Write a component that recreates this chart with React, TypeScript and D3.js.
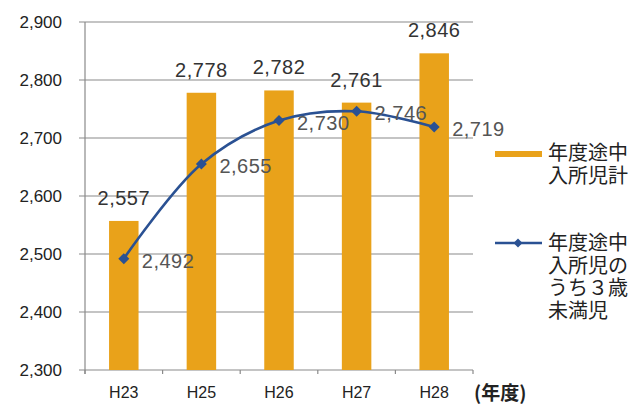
import React from "react";
import * as d3 from "d3";

const categories = ["H23", "H25", "H26", "H27", "H28"];
const totalValues = [2557, 2778, 2782, 2761, 2846];
const under3Values = [2492, 2655, 2730, 2746, 2719];
const yTicks = [2300, 2400, 2500, 2600, 2700, 2800, 2900];
const legendBar = ["年度途中", "入所児計"];
const legendLine = ["年度途中", "入所児の", "うち３歳", "未満児"];
const unitLabel = "(年度)";

const W = 629, H = 406;
const left = 85, right = 473, top = 22, bottom = 370;
const barColor = "#E9A21A";
const lineColor = "#2A5193";
const fontLatin = "'Liberation Sans', Arial, sans-serif";
const fontCJK = "'Noto Sans CJK JP', sans-serif";

export default function App() {
  const x = d3.scaleBand<string>().domain(categories).range([left, right]).paddingInner(0.62).paddingOuter(0.31);
  const y = d3.scaleLinear().domain([2300, 2900]).range([bottom, top]);
  const band = d3.scaleBand<string>().domain(categories).range([left, right]);
  const cx = (c: string) => (x(c) as number) + x.bandwidth() / 2;
  const line = d3.line<number>().x((_, i) => cx(categories[i])).y(d => y(d)).curve(d3.curveCatmullRom.alpha(0.5));
  const fmt = d3.format(",");
  const boundaries = categories.map(c => band(c) as number).concat([right]);

  return (
    <svg width={W} height={H} style={{ position: "absolute", left: 0, top: 0, background: "#fff" }}>
      {yTicks.map(t => (
        <g key={t}>
          <line x1={left - 6} x2={right} y1={y(t)} y2={y(t)} stroke="#8a8a8a" strokeWidth={1.2} />
          <text x={62} y={y(t)} dy="0.35em" textAnchor="end" fontFamily={fontLatin} fontSize={17} fill="#222">{fmt(t)}</text>
        </g>
      ))}
      <line x1={left} x2={left} y1={top} y2={bottom + 4} stroke="#8a8a8a" strokeWidth={1.2} />
      {boundaries.map((b, i) => (
        <line key={i} x1={b} x2={b} y1={bottom} y2={bottom + 4} stroke="#8a8a8a" strokeWidth={1.2} />
      ))}
      {categories.map((c, i) => (
        <rect key={c} x={x(c)} y={y(totalValues[i])} width={x.bandwidth()} height={bottom - y(totalValues[i])} fill={barColor} />
      ))}
      {categories.map((c, i) => (
        <text key={c} x={cx(c)} y={y(totalValues[i]) - 16} textAnchor="middle" fontFamily={fontLatin} fontSize={20} letterSpacing={0.5} fill="#333">{fmt(totalValues[i])}</text>
      ))}
      <path d={line(under3Values) || ""} fill="none" stroke={lineColor} strokeWidth={2.6} />
      {categories.map((c, i) => {
        const px = cx(c), py = y(under3Values[i]);
        return <path key={c} d={`M${px},${py - 5.5}L${px + 5.5},${py}L${px},${py + 5.5}L${px - 5.5},${py}Z`} fill={lineColor} />;
      })}
      {categories.map((c, i) => (
        <text key={c} x={cx(c) + 18} y={y(under3Values[i]) + 9} fontFamily={fontLatin} fontSize={20} letterSpacing={0.5} fill="#555">{fmt(under3Values[i])}</text>
      ))}
      {categories.map(c => (
        <text key={c} x={cx(c)} y={392} dy="0.35em" textAnchor="middle" fontFamily={fontLatin} fontSize={16} fill="#222">{c}</text>
      ))}
      <text x={474} y={393} dy="0.35em" fontFamily={fontCJK} fontSize={19} fontWeight="bold" fill="#222">{unitLabel}</text>
      <rect x={495} y={151} width={47} height={6} fill={barColor} />
      {legendBar.map((t, i) => (
        <text key={i} x={548} y={153 + i * 23} dy="0.35em" fontFamily={fontCJK} fontSize={20} fill="#222">{t}</text>
      ))}
      <line x1={495} x2={542} y1={243} y2={243} stroke={lineColor} strokeWidth={2.6} />
      <path d="M518,238.5L522.5,243L518,247.5L513.5,243Z" fill={lineColor} />
      {legendLine.map((t, i) => (
        <text key={i} x={548} y={243 + i * 22.5} dy="0.35em" fontFamily={fontCJK} fontSize={20} fill="#222">{t}</text>
      ))}
    </svg>
  );
}
